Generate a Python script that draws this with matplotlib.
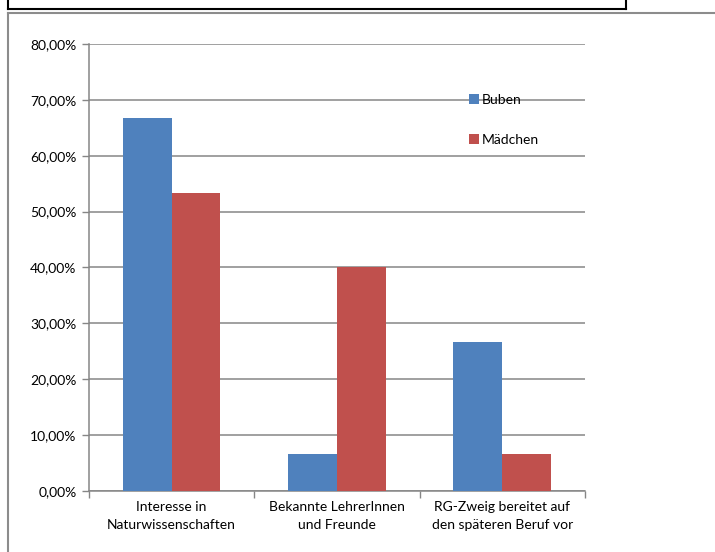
import numpy as np
import matplotlib.pyplot as plt
from matplotlib.lines import Line2D
from matplotlib.ticker import FuncFormatter, MultipleLocator

plt.rcParams['font.family'] = ['Lato', 'DejaVu Sans']
plt.rcParams['font.size'] = 10

categories = ['Interesse in\nNaturwissenschaften',
              'Bekannte LehrerInnen\nund Freunde',
              'RG-Zweig bereitet auf\nden späteren Beruf vor']
buben = [66.67, 6.67, 26.67]
maedchen = [53.33, 40.0, 6.67]

blue = '#4F81BD'
red = '#C0504D'
grid_grey = '#868686'

fig = plt.figure(figsize=(7.15, 5.52), dpi=100)
ax = fig.add_axes([0.1245, 0.1105, 0.818 - 0.1245, 0.9203 - 0.1105])

x = np.arange(len(categories))
w = 0.295
ax.bar(x - w / 2, buben, w, color=blue, label='Buben', zorder=3)
ax.bar(x + w / 2, maedchen, w, color=red, label='Mädchen', zorder=3)

ax.set_xlim(-0.5, len(categories) - 0.5)
ax.set_ylim(0, 80)
ax.yaxis.set_major_locator(MultipleLocator(10))
ax.yaxis.set_major_formatter(FuncFormatter(lambda v, p: f'{v:.2f}%'.replace('.', ',')))
ax.grid(axis='y', color=grid_grey, linewidth=1.1, zorder=0)
ax.tick_params(axis='y', length=5, width=1, color=grid_grey, pad=4)

# category labels sit between the boundary ticks
ax.set_xticks(np.arange(len(categories) + 1) - 0.5)
ax.set_xticklabels([])
ax.set_xticks(x, minor=True)
ax.set_xticklabels(categories, minor=True, linespacing=1.65)
ax.tick_params(axis='x', which='major', length=5, width=1, color=grid_grey)
ax.tick_params(axis='x', which='minor', length=0, pad=7)

for s in ['top', 'right']:
    ax.spines[s].set_visible(False)
for s in ['left', 'bottom']:
    ax.spines[s].set_color(grid_grey)
    ax.spines[s].set_linewidth(1.1)

ax.legend(loc='center left', bbox_to_anchor=(462 / 715, 1 - 120 / 552),
          bbox_transform=fig.transFigure, frameon=False,
          handlelength=0.75, handleheight=0.75, handletextpad=0.15,
          labelspacing=2.0, borderpad=0)

# outer chart frame and the box above it
fig.add_artist(Line2D([8 / 715, 8 / 715], [0, 1 - 13 / 552], color='#8C8C8C', lw=1.5))
fig.add_artist(Line2D([8 / 715, 1], [1 - 13 / 552, 1 - 13 / 552], color='#8C8C8C', lw=1.5))
fig.add_artist(Line2D([8 / 715, 8 / 715], [1 - 9 / 552, 1], color='black', lw=1.5))
fig.add_artist(Line2D([8 / 715, 626 / 715], [1 - 9 / 552, 1 - 9 / 552], color='black', lw=1.5))
fig.add_artist(Line2D([626 / 715, 626 / 715], [1 - 9 / 552, 1], color='black', lw=1.5))

fig.savefig('out.png', dpi=100)
